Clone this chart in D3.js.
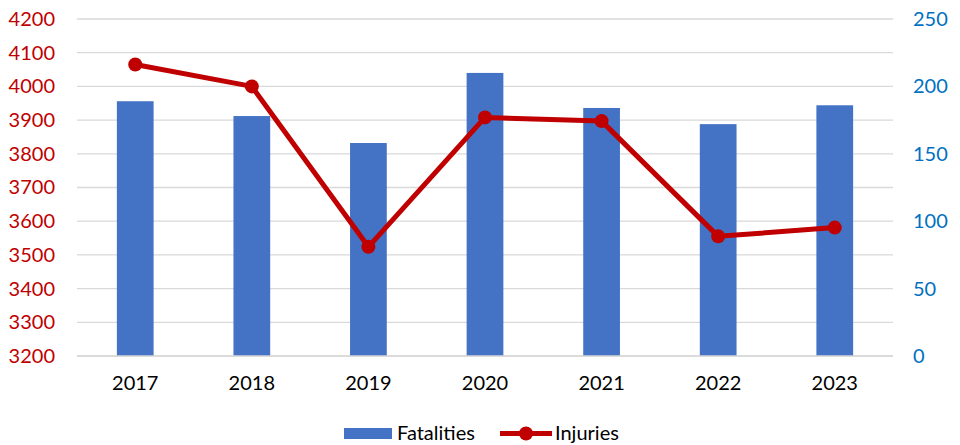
<!DOCTYPE html>
<html>
<head>
<meta charset="utf-8">
<script src="https://cdn.jsdelivr.net/npm/d3@7"></script>
<style>
  body { margin: 0; background: #fff; }
  svg { font-family: Lato, "Open Sans", sans-serif; }
</style>
</head>
<body>
<svg width="960" height="445"></svg>
<script>
// data
var years = ["2017", "2018", "2019", "2020", "2021", "2022", "2023"];
var fatalities = [189, 178, 158, 210, 184, 172, 186];
var injuries = [4065, 4000, 3524, 3908, 3897, 3555, 3581];
var leftTicks = [3200, 3300, 3400, 3500, 3600, 3700, 3800, 3900, 4000, 4100, 4200];
var rightTicks = [0, 50, 100, 150, 200, 250];

var svg = d3.select("svg");
var margin = {left: 77, right: 67, top: 19, bottom: 89};
var width = 960, height = 445;
var fontSize = "20px";

var x = d3.scaleBand()
    .domain(years)
    .range([margin.left, width - margin.right])
    .paddingInner(0.685)
    .paddingOuter(0.342);

var yLeft = d3.scaleLinear().domain([3200, 4200]).range([height - margin.bottom, margin.top]);
var yRight = d3.scaleLinear().domain([0, 250]).range([height - margin.bottom, margin.top]);

// gridlines
svg.append("g")
  .selectAll("line")
  .data(leftTicks)
  .join("line")
    .attr("x1", margin.left)
    .attr("x2", width - margin.right)
    .attr("y1", d => yLeft(d))
    .attr("y2", d => yLeft(d))
    .attr("stroke", "#d9d9d9")
    .attr("stroke-width", 1.3);

// left axis
var gl = svg.append("g")
    .attr("transform", `translate(${margin.left},0)`)
    .call(d3.axisLeft(yLeft).tickValues(leftTicks).tickFormat(d3.format("d")).tickSize(0).tickPadding(22));
gl.select(".domain").remove();
gl.selectAll("text").attr("fill", "#c00000").style("font-size", fontSize).style("font-family", "Lato, sans-serif");

// right axis
var gr = svg.append("g")
    .attr("transform", `translate(${width - margin.right},0)`)
    .call(d3.axisRight(yRight).tickValues(rightTicks).tickSize(0).tickPadding(20));
gr.select(".domain").remove();
gr.selectAll("text").attr("fill", "#0070c0").style("font-size", fontSize).style("font-family", "Lato, sans-serif");

// bars
svg.append("g")
  .selectAll("rect")
  .data(fatalities)
  .join("rect")
    .attr("x", (d, i) => x(years[i]))
    .attr("width", x.bandwidth())
    .attr("y", d => yRight(d))
    .attr("height", d => yRight(0) - yRight(d))
    .attr("fill", "#4472c4");

// bottom axis line
svg.append("line")
    .attr("x1", margin.left).attr("x2", width - margin.right)
    .attr("y1", yLeft(3200)).attr("y2", yLeft(3200))
    .attr("stroke", "#d9d9d9").attr("stroke-width", 1.3);

// x labels
var gx = svg.append("g")
    .attr("transform", `translate(0,${height - margin.bottom})`)
    .call(d3.axisBottom(x).tickSize(0).tickPadding(20));
gx.select(".domain").remove();
gx.selectAll("text").attr("fill", "#000").style("font-size", fontSize).style("font-family", "Lato, sans-serif");

// injuries line
var line = d3.line()
    .x((d, i) => x(years[i]) + x.bandwidth() / 2)
    .y(d => yLeft(d));

svg.append("path")
    .datum(injuries)
    .attr("fill", "none")
    .attr("stroke", "#c00000")
    .attr("stroke-width", 5)
    .attr("stroke-linejoin", "round")
    .attr("d", line);

svg.append("g")
  .selectAll("circle")
  .data(injuries)
  .join("circle")
    .attr("cx", (d, i) => x(years[i]) + x.bandwidth() / 2)
    .attr("cy", d => yLeft(d))
    .attr("r", 7)
    .attr("fill", "#c00000");

// legend
var lg = svg.append("g").style("font-size", fontSize);
lg.append("rect").attr("x", 344).attr("y", 428).attr("width", 48).attr("height", 11).attr("fill", "#4472c4");
lg.append("text").attr("x", 397).attr("y", 440).attr("fill", "#000").text("Fatalities");
lg.append("line").attr("x1", 500).attr("x2", 552).attr("y1", 433.5).attr("y2", 433.5)
    .attr("stroke", "#c00000").attr("stroke-width", 5);
lg.append("circle").attr("cx", 526).attr("cy", 433.5).attr("r", 7).attr("fill", "#c00000");
lg.append("text").attr("x", 555).attr("y", 440).attr("fill", "#000").text("Injuries");
</script>
</body>
</html>
